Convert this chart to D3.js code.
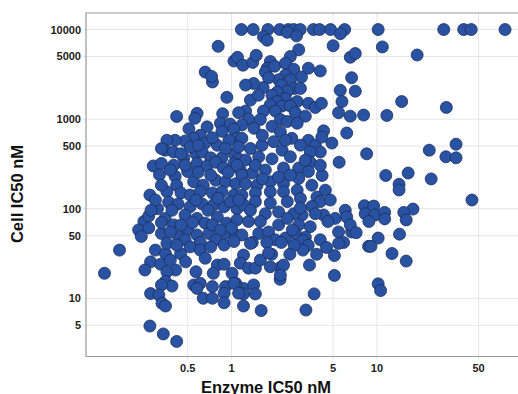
<!DOCTYPE html>
<html>
<head>
<meta charset="utf-8">
<script src="https://cdn.jsdelivr.net/npm/d3@7"></script>
<style>
    body { margin: 0; background: #fff; }
    svg { display: block; font-family: "Liberation Sans", Arial, sans-serif; }
</style>
</head>
<body>
<script>
    // [enzyme IC50 nM, cell IC50 nM]
    const compounds = [
        [1.17, 10000], [1.41, 10000], [1.78, 10000], [2.15, 10000], [2.46, 10000], [2.68, 10000], [2.97, 10000], [3.66, 10000],
        [4.03, 10000], [4.8, 10000], [6.0, 10000], [10.2, 10000], [28.8, 10000], [39.5, 10000], [44.5, 10000], [76, 10000],
        [1.66, 8300], [1.76, 7600], [2.42, 9300], [2.8, 8500], [5.6, 9000], [5.0, 6600], [10.9, 6400], [6.56, 4900], [7.1, 5400],
        [2.9, 5950], [2.54, 5000], [18.9, 5200], [0.81, 6500],
        [1.04, 4450], [1.1, 4900], [1.2, 4000], [1.4, 4300], [1.48, 5150],
        [1.85, 4400], [1.76, 3700], [1.71, 3350], [1.98, 3900], [2.35, 4200], [2.68, 3600], [3.38, 3700], [4.08, 3450], [3.03, 2950],
        [2.35, 3100], [2.11, 2750], [2.54, 2750], [1.8, 2900], [1.65, 2250], [1.42, 2500], [1.25, 2400], [2.2, 2400], [2.72, 2200],
        [2.42, 2050], [2.06, 2000], [6.7, 2900], [5.6, 2100], [7.1, 2050], [5.75, 1570], [1.9, 1850], [2.35, 1700], [2.83, 1570],
        [2.06, 1570], [1.85, 1450], [3.38, 1500], [3.77, 1350], [4.15, 1500], [2.23, 1400], [2.54, 1400], [2.0, 1230], [1.66, 1230],
        [2.75, 1180], [3.22, 1080], [1.25, 1230], [1.12, 1180], [1.31, 1000], [5.45, 1180], [6.56, 1080], [8.1, 1110], [11.7, 1100],
        [14.8, 1570], [30, 1350],
        [1.35, 1630], [1.53, 1850], [2.98, 2200], [1.58, 990], [2.17, 990],
        [1.18, 860], [1.43, 790], [1.9, 830], [2.42, 940], [2.83, 900], [4.3, 740], [6.2, 700],
        [0.66, 3350], [0.74, 2600], [0.73, 3000], [0.93, 1750], [0.42, 1070], [0.58, 1160], [0.56, 1020], [0.87, 1150],
        [0.51, 780], [0.68, 820], [0.84, 900], [0.98, 880], [1.04, 770],
        [0.61, 660], [0.86, 730], [1.09, 610], [0.96, 580], [0.80, 510], [0.66, 540], [0.55, 610], [0.48, 570], [0.41, 580],
        [0.36, 580], [0.35, 450], [0.40, 430], [0.47, 370], [0.45, 410], [0.57, 410], [0.63, 430], [0.72, 370], [0.86, 370],
        [1.04, 410], [1.12, 360], [0.29, 300], [0.32, 240], [0.33, 320], [0.40, 306], [0.50, 260], [0.58, 320], [0.68, 300],
        [0.78, 330], [0.88, 285], [1.04, 320], [0.41, 230], [0.42, 183], [0.55, 200], [0.64, 183], [0.78, 208], [0.91, 200],
        [1.07, 190], [0.275, 142], [0.36, 155], [0.45, 150], [0.52, 142], [0.61, 155], [0.74, 150], [0.86, 155], [1.04, 142],
        [0.31, 100], [0.37, 118], [0.43, 113], [0.52, 105], [0.63, 113], [0.75, 110], [0.89, 105], [1.09, 100], [0.35, 78],
        [0.40, 66], [0.50, 58], [0.58, 78], [0.66, 69], [0.80, 81], [0.93, 69], [1.09, 75], [0.25, 72], [0.23, 58], [0.27, 61],
        [0.24, 49], [0.33, 53], [0.43, 49], [0.58, 51], [0.70, 53], [0.91, 53], [1.07, 51], [0.27, 83],
        [0.33, 183], [0.38, 270], [0.48, 306], [0.59, 255], [0.72, 237], [0.95, 255], [1.15, 270], [0.30, 125], [0.39, 96],
        [0.48, 85], [0.57, 125], [0.69, 96], [0.81, 131], [0.98, 120], [0.28, 96], [0.33, 70], [0.45, 66], [0.54, 70],
        [0.74, 66], [0.84, 58], [1.0, 61], [0.38, 55], [0.48, 45], [0.61, 42], [0.78, 45], [0.33, 470], [0.52, 490],
        [0.74, 620], [0.91, 470], [0.59, 510],
        [1.18, 610], [2.17, 720], [2.6, 610], [1.95, 560], [1.62, 510], [1.35, 470], [1.12, 490], [2.23, 450], [2.54, 380],
        [1.9, 360], [1.54, 380], [1.25, 350], [1.09, 306], [3.38, 580], [3.77, 510], [4.18, 630], [4.9, 540], [4.08, 430],
        [3.48, 430], [8.5, 410], [5.5, 330], [3.48, 330], [2.9, 285], [2.28, 285], [1.71, 270], [1.39, 250], [1.18, 237],
        [3.38, 260], [4.2, 235], [2.9, 218], [2.28, 190], [1.85, 200], [1.5, 183], [1.25, 190], [3.57, 183], [2.83, 161],
        [2.28, 155], [1.85, 155], [1.46, 150], [1.18, 142], [4.42, 161], [3.87, 135], [4.08, 120], [3.57, 106], [2.98, 130],
        [2.42, 120], [1.85, 116], [1.46, 120], [1.22, 110], [1.12, 125], [6.06, 96], [8.2, 108], [9.5, 107], [8.3, 88],
        [9.7, 85], [8.8, 72], [4.3, 85], [5.17, 78], [6.2, 81], [4.6, 72], [3.77, 88], [3.06, 85], [2.68, 88], [2.11, 92],
        [1.71, 88], [1.31, 72], [2.11, 66], [2.9, 66], [3.48, 63], [5.45, 55], [6.7, 55], [6.56, 66], [1.54, 53], [1.8, 55],
        [1.18, 51], [2.35, 47], [2.75, 53], [3.22, 48], [4.08, 45], [10.2, 47],
        [1.63, 660], [2.98, 512], [2.35, 582], [1.46, 306], [3.22, 348], [2.54, 237], [1.63, 215], [2.1, 225], [4.08, 306],
        [1.35, 96], [1.58, 72], [2.42, 78], [2.62, 58], [4.78, 125], [2.98, 102], [2.0, 45], [1.39, 42],
        [35, 525], [22.9, 450], [29.8, 380], [35, 370], [11.5, 235], [16.4, 250], [23.6, 215], [14.2, 187], [14.2, 162],
        [45, 125], [17.7, 99], [15.3, 91], [15.9, 75], [14.3, 52], [15.9, 26], [12.7, 31.6], [10.2, 14.5], [10.6, 12.2],
        [8.76, 38], [9.1, 38], [11.3, 91], [11.3, 77],
        [5.9, 42], [7.2, 54], [5.45, 41], [3.85, 31], [4.5, 37], [3.1, 44], [3.37, 39], [3.1, 34.5], [2.7, 39], [2.52, 31],
        [2.2, 42], [2.16, 22], [2.16, 16.3], [1.89, 31], [1.75, 42], [5.1, 30], [5.1, 18], [3.44, 23.5], [3.7, 11.2],
        [3.25, 7.4], [1.6, 7.3],
        [1.21, 30.4], [1.15, 24.6], [1.31, 21.7], [1.46, 21.7], [1.58, 26.7], [1.8, 32], [1.85, 22.5], [2.28, 23.5],
        [2.17, 18.2], [1.35, 41], [1.21, 8.2], [1.21, 12.9], [1.21, 11.2], [1.42, 14.1], [1.46, 11.2], [1.07, 14.7],
        [0.17, 34.5], [0.134, 19], [0.278, 25.5], [0.254, 20.7], [0.326, 24], [0.30, 34.5], [0.352, 31.5], [0.38, 26.7],
        [0.447, 31.5], [0.484, 25.5], [0.413, 20.7], [0.36, 19.8], [0.352, 15.4], [0.39, 13.7], [0.33, 14.1], [0.278, 11.3],
        [0.317, 10.9], [0.333, 8.8], [0.352, 8.2], [0.275, 4.9], [0.34, 4.0], [0.42, 3.3], [0.36, 41], [0.42, 39.3],
        [0.52, 37.5], [0.61, 34.5], [0.72, 37.5], [0.89, 39.3], [1.04, 43], [0.66, 28], [0.80, 23.5], [0.89, 24],
        [0.57, 19.8], [0.75, 19], [1.01, 19], [0.55, 14.1], [0.61, 14.7], [0.74, 13.5], [0.64, 10], [0.74, 10],
        [0.91, 13.5], [0.89, 11.4], [0.89, 8.9], [1.04, 14.7], [1.12, 11.4], [0.58, 12.9]
    ];

    const xTicks = [0.5, 1, 5, 10, 50];
    const yTicks = [5, 10, 50, 100, 500, 1000, 5000, 10000];
    const xTitle = "Enzyme IC50 nM";
    const yTitle = "Cell IC50 nM";

    const width = 518;
    const height = 394;
    const margin = {top: 13, right: 0, bottom: 37.5, left: 86};

    const svg = d3.select("body").append("svg")
        .attr("width", width)
        .attr("height", height);

    const x = d3.scaleLog()
        .domain([0.1, 93.3])
        .range([margin.left, width - margin.right]);

    const y = d3.scaleLog()
        .domain([2.24, 15300])
        .range([height - margin.bottom, margin.top]);

    const grid = svg.append("g")
        .attr("stroke", "#e6e6e6")
        .attr("stroke-width", 1);

    grid.selectAll("line.gx")
        .data(xTicks)
        .join("line")
        .attr("class", "gx")
        .attr("x1", d => x(d)).attr("x2", d => x(d))
        .attr("y1", margin.top).attr("y2", height - margin.bottom + 3);

    grid.selectAll("line.gy")
        .data(yTicks)
        .join("line")
        .attr("class", "gy")
        .attr("y1", d => y(d)).attr("y2", d => y(d))
        .attr("x1", margin.left - 3).attr("x2", width - margin.right);

    // frame: top, left, bottom
    svg.append("path")
        .attr("stroke", "#999")
        .attr("stroke-width", 1.2)
        .attr("fill", "none")
        .attr("d", `M${width},${margin.top}H${margin.left}V${height - margin.bottom}H${width}`);

    svg.append("g")
        .attr("fill", "#2a52a2")
        .attr("stroke", "#1c2f5c")
        .attr("stroke-width", 0.8)
        .selectAll("circle")
        .data(compounds)
        .join("circle")
        .attr("cx", d => x(d[0]))
        .attr("cy", d => y(d[1]))
        .attr("r", 6);

    svg.append("g")
        .attr("font-size", 11)
        .attr("font-weight", "bold")
        .attr("fill", "#222")
        .attr("text-anchor", "middle")
        .selectAll("text")
        .data(xTicks)
        .join("text")
        .attr("x", d => x(d))
        .attr("y", 371.5)
        .text(d => d);

    svg.append("g")
        .attr("font-size", 11)
        .attr("font-weight", "bold")
        .attr("fill", "#222")
        .attr("text-anchor", "end")
        .selectAll("text")
        .data(yTicks)
        .join("text")
        .attr("x", 81)
        .attr("y", d => y(d))
        .attr("dy", "0.36em")
        .text(d => d);

    svg.append("text")
        .attr("x", 266)
        .attr("y", 392.5)
        .attr("text-anchor", "middle")
        .attr("font-size", 16.5)
        .attr("font-weight", "bold")
        .attr("fill", "#111")
        .text(xTitle);

    svg.append("text")
        .attr("transform", "translate(23.3,194) rotate(-90)")
        .attr("text-anchor", "middle")
        .attr("font-size", 16.5)
        .attr("font-weight", "bold")
        .attr("fill", "#111")
        .text(yTitle);
</script>
</body>
</html>
